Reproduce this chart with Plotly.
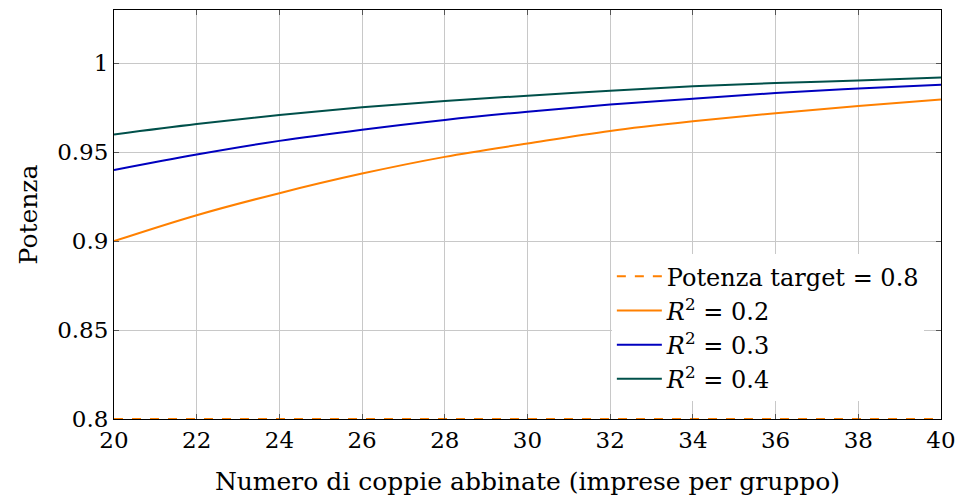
import plotly.graph_objects as go

x_vals = [20, 22, 24, 26, 28, 30, 32, 34, 36, 38, 40]
power_r2_02 = [0.900, 0.9146, 0.927, 0.938, 0.9474, 0.9549, 0.962, 0.9674, 0.972, 0.976, 0.9796]
power_r2_03 = [0.940, 0.9487, 0.9564, 0.9627, 0.9682, 0.9728, 0.9768, 0.9801, 0.9833, 0.9858, 0.988]
power_r2_04 = [0.960, 0.9659, 0.971, 0.9753, 0.9788, 0.9818, 0.9846, 0.9871, 0.9889, 0.9904, 0.992]
target_x = [20, 40]
target_y = [0.8, 0.8]
x_ticks = [20, 22, 24, 26, 28, 30, 32, 34, 36, 38, 40]
y_ticks = [0.8, 0.85, 0.9, 0.95, 1.0]
y_tick_text = ["0.8", "0.85", "0.9", "0.95", "1"]

FONT = "DejaVu Serif"
ORANGE = "#ff8000"
BLUE = "#0000bf"
TEAL = "#00504a"

fig = go.Figure()
fig.add_trace(go.Scatter(x=target_x, y=target_y, mode="lines",
                         line=dict(color=ORANGE, width=2, dash="dash"),
                         name="Potenza target = 0.8", cliponaxis=False))
fig.add_trace(go.Scatter(x=x_vals, y=power_r2_02, mode="lines", line_shape="spline",
                         line=dict(color=ORANGE, width=2),
                         name="<i>R</i><sup>2</sup> = 0.2"))
fig.add_trace(go.Scatter(x=x_vals, y=power_r2_03, mode="lines", line_shape="spline",
                         line=dict(color=BLUE, width=2),
                         name="<i>R</i><sup>2</sup> = 0.3"))
fig.add_trace(go.Scatter(x=x_vals, y=power_r2_04, mode="lines", line_shape="spline",
                         line=dict(color=TEAL, width=2),
                         name="<i>R</i><sup>2</sup> = 0.4"))

axis_common = dict(showline=True, linecolor="black", linewidth=1, mirror="ticks",
                   ticks="inside", ticklen=5, tickcolor="#555555",
                   showgrid=True, gridcolor="#c8c8c8", gridwidth=1, zeroline=False,
                   tickfont=dict(family=FONT, size=23, color="black"))

fig.update_layout(
    width=958, height=497,
    margin=dict(l=114, r=17, t=10, b=78, autoexpand=False),
    paper_bgcolor="white", plot_bgcolor="white",
    font=dict(family=FONT, size=23, color="black"),
    xaxis=dict(range=[20, 40], tickvals=x_ticks, automargin=False, **axis_common,
               title=dict(text="Numero di coppie abbinate (imprese per gruppo)",
                          font=dict(family=FONT, size=25), standoff=20)),
    yaxis=dict(range=[0.8, 1.03], tickvals=y_ticks, ticktext=y_tick_text,
               automargin=False, **axis_common,
               title=dict(text="Potenza", font=dict(family=FONT, size=25), standoff=12)),
    legend=dict(x=0.602, y=0.403, xanchor="left", yanchor="top",
                bgcolor="white", borderwidth=0,
                font=dict(family=FONT, size=24), tracegroupgap=0,
                itemwidth=45),
    showlegend=True,
)

fig.write_html("out.html", config={"displayModeBar": False},
               post_script="document.body.style.margin='0';document.body.style.padding='0';")
